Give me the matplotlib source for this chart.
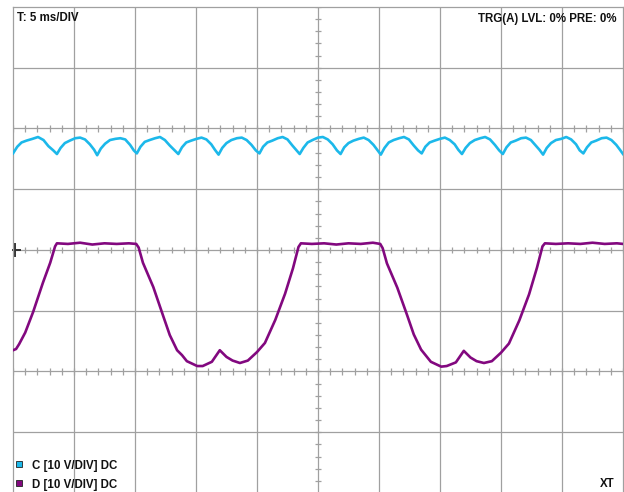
import matplotlib
matplotlib.use("Agg")
import matplotlib.pyplot as plt
from matplotlib.patches import Rectangle
import numpy as np

# ---- data (x in divisions, 5 ms/DIV; y in divisions, 10 V/DIV) ----
c_x = [0.00, 0.07, 0.14, 0.22, 0.32, 0.41, 0.50, 0.58, 0.66,
       0.72, 0.78, 0.85, 0.93, 1.02, 1.10, 1.18, 1.26, 1.33,
       1.38, 1.44, 1.51, 1.59, 1.68, 1.76, 1.84, 1.92, 1.98,
       2.03, 2.09, 2.16, 2.24, 2.33, 2.41, 2.49, 2.57, 2.65,
       2.71, 2.77, 2.84, 2.92, 3.01, 3.09, 3.17, 3.25, 3.31,
       3.37, 3.43, 3.50, 3.58, 3.67, 3.75, 3.83, 3.91, 3.98,
       4.04, 4.10, 4.17, 4.25, 4.34, 4.42, 4.50, 4.58, 4.64,
       4.70, 4.76, 4.83, 4.91, 5.00, 5.08, 5.16, 5.24, 5.31,
       5.37, 5.43, 5.50, 5.58, 5.67, 5.75, 5.83, 5.91, 5.97,
       6.03, 6.09, 6.16, 6.24, 6.33, 6.41, 6.49, 6.57, 6.64,
       6.70, 6.76, 6.83, 6.91, 7.00, 7.08, 7.16, 7.24, 7.30,
       7.36, 7.42, 7.49, 7.57, 7.66, 7.74, 7.82, 7.90, 7.97,
       8.03, 8.09, 8.16, 8.24, 8.33, 8.41, 8.49, 8.57, 8.63,
       8.69, 8.75, 8.82, 8.90, 8.99, 9.07, 9.15, 9.23, 9.29,
       9.35, 9.41, 9.48, 9.56, 9.65, 9.73, 9.81, 9.89, 9.95,
       10.00]
c_y = [5.59, 5.70, 5.77, 5.80, 5.83, 5.86, 5.81, 5.71, 5.64,
       5.58, 5.68, 5.76, 5.80, 5.84, 5.85, 5.82, 5.74, 5.65,
       5.56, 5.67, 5.75, 5.81, 5.83, 5.84, 5.82, 5.73, 5.64,
       5.59, 5.70, 5.78, 5.81, 5.84, 5.86, 5.81, 5.72, 5.64,
       5.58, 5.69, 5.77, 5.80, 5.83, 5.85, 5.82, 5.74, 5.65,
       5.57, 5.68, 5.76, 5.81, 5.84, 5.85, 5.81, 5.73, 5.64,
       5.59, 5.70, 5.77, 5.80, 5.84, 5.86, 5.82, 5.72, 5.65,
       5.58, 5.68, 5.77, 5.81, 5.85, 5.86, 5.82, 5.74, 5.64,
       5.58, 5.69, 5.76, 5.80, 5.83, 5.85, 5.81, 5.73, 5.65,
       5.57, 5.68, 5.77, 5.81, 5.84, 5.86, 5.82, 5.72, 5.64,
       5.59, 5.70, 5.77, 5.80, 5.83, 5.85, 5.81, 5.74, 5.65,
       5.58, 5.68, 5.76, 5.81, 5.84, 5.86, 5.82, 5.73, 5.64,
       5.58, 5.69, 5.77, 5.80, 5.84, 5.85, 5.81, 5.72, 5.65,
       5.57, 5.68, 5.76, 5.81, 5.83, 5.86, 5.82, 5.74, 5.64,
       5.59, 5.69, 5.77, 5.80, 5.84, 5.85, 5.81, 5.73, 5.65,
       5.58]

d_x = [0.00, 0.05, 0.10, 0.20, 0.33, 0.49, 0.61, 0.69, 0.72,
       0.90, 1.10, 1.30, 1.50, 1.70, 1.90, 2.02,
       2.06, 2.13, 2.30, 2.46, 2.57, 2.69, 2.77, 2.85, 3.02, 3.11,
       3.26, 3.39, 3.50, 3.60, 3.72, 3.85, 4.00, 4.13, 4.30, 4.46,
       4.59, 4.68, 4.72,
       4.90, 5.10, 5.30, 5.50, 5.70, 5.90, 6.02,
       6.06, 6.13, 6.30, 6.46, 6.57, 6.69, 6.77, 6.85, 7.02, 7.11,
       7.26, 7.39, 7.50, 7.60, 7.72, 7.85, 8.00, 8.13, 8.30, 8.46,
       8.59, 8.68, 8.72,
       8.90, 9.10, 9.30, 9.50, 9.70, 9.90, 10.00]
d_y = [2.35, 2.37, 2.45, 2.64, 2.98, 3.46, 3.79, 4.06, 4.11,
       4.10, 4.12, 4.09, 4.11, 4.10, 4.11, 4.10,
       4.04, 3.79, 3.39, 2.92, 2.60, 2.35, 2.27, 2.17, 2.09, 2.09,
       2.16, 2.35, 2.24, 2.18, 2.14, 2.18, 2.32, 2.47, 2.85, 3.28,
       3.70, 4.05, 4.11,
       4.10, 4.11, 4.09, 4.11, 4.10, 4.12, 4.10,
       4.03, 3.78, 3.38, 2.93, 2.61, 2.36, 2.26, 2.16, 2.08, 2.09,
       2.15, 2.34, 2.23, 2.17, 2.14, 2.17, 2.31, 2.46, 2.84, 3.27,
       3.71, 4.06, 4.11,
       4.10, 4.11, 4.10, 4.12, 4.10, 4.11, 4.10]

c_label = "C [10 V/DIV] DC"
d_label = "D [10 V/DIV] DC"
top_left = "T: 5 ms/DIV"
top_right = "TRG(A) LVL: 0% PRE: 0%"
mode_label = "XT"

c_color = "#1cb8ea"
d_color = "#82087f"
grid_color = "#a0a0a0"

W, H = 624, 492
fig = plt.figure(figsize=(W / 100, H / 100), dpi=100)
ax = fig.add_axes([13 / W, 1 - 493 / H, 610 / W, 486 / H])
ax.set_xlim(0, 10)
ax.set_ylim(0, 8)
ax.set_xticks([])
ax.set_yticks([])
for s in ax.spines.values():
    s.set_color(grid_color)
    s.set_linewidth(0.9)

for gx in range(1, 10):
    ax.axvline(gx, color=grid_color, lw=0.9, zorder=1)
for gy in range(1, 8):
    ax.axhline(gy, color=grid_color, lw=0.9, zorder=1)

minor_x = np.arange(0, 10.001, 0.2)
for gy in (2, 4, 6):
    ax.vlines(minor_x, gy - 0.05, gy + 0.05, color=grid_color, lw=0.9, zorder=1)
minor_y = np.arange(0, 8.001, 0.2)
ax.hlines(minor_y, 5 - 0.05, 5 + 0.05, color=grid_color, lw=0.9, zorder=1)

# trigger marker
ax.plot([0, 0.12], [4, 4], color="#333333", lw=1.4, zorder=2, clip_on=False)
ax.plot([0.04, 0.04], [3.9, 4.1], color="#333333", lw=1.4, zorder=2, clip_on=False)

ax.plot(c_x, c_y, color=c_color, lw=1.9, zorder=3, solid_joinstyle="round")
ax.plot(d_x, d_y, color=d_color, lw=1.9, zorder=3, solid_joinstyle="round")

font = dict(family=["Liberation Sans", "DejaVu Sans"], weight="bold", size=8.3, color="#111111")
fig.text(17 / W, 1 - 21 / H, top_left, ha="left", va="baseline", **font)
fig.text(616 / W, 1 - 22 / H, top_right, ha="right", va="baseline", **font)
fig.text(32 / W, 1 - 469 / H, c_label, ha="left", va="baseline", **font)
fig.text(32 / W, 1 - 488 / H, d_label, ha="left", va="baseline", **font)
fig.text(615 / W, 1 - 487 / H, mode_label, ha="right", va="baseline", **font)

fig.patches.append(Rectangle((16 / W, 1 - 467 / H), 6 / W, 6 / H, transform=fig.transFigure,
                             facecolor=c_color, edgecolor="#222222", lw=0.6))
fig.patches.append(Rectangle((16 / W, 1 - 486 / H), 6 / W, 6 / H, transform=fig.transFigure,
                             facecolor=d_color, edgecolor="#222222", lw=0.6))

fig.savefig("out.png", dpi=100)
